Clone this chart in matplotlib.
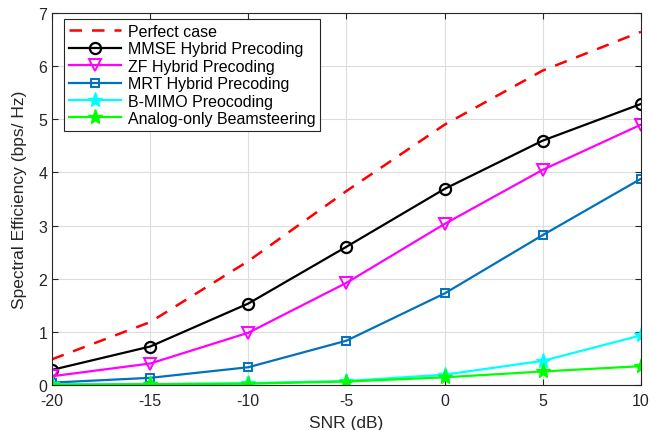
import numpy as np
import matplotlib.pyplot as plt

plt.rcParams['font.family'] = ['Liberation Sans', 'DejaVu Sans']
plt.rcParams['axes.unicode_minus'] = False

snr = [-20, -15, -10, -5, 0, 5, 10]
perfect = [0.48, 1.18, 2.33, 3.65, 4.90, 5.92, 6.65]
mmse = [0.28, 0.72, 1.53, 2.60, 3.69, 4.60, 5.29]
zf = [0.16, 0.40, 0.98, 1.92, 3.03, 4.05, 4.90]
mrt = [0.04, 0.13, 0.33, 0.83, 1.72, 2.82, 3.88]
bmimo = [0.01, 0.01, 0.03, 0.07, 0.19, 0.45, 0.93]
analog = [0.00, 0.01, 0.02, 0.06, 0.14, 0.25, 0.35]

fig = plt.figure(figsize=(6.5, 4.31), dpi=100)
ax = fig.add_axes([0.08, 0.105, 0.906, 0.862])

ax.plot(snr, perfect, '--', color='#FF0000', lw=1.8, dashes=(5, 4), label='Perfect case')
ax.plot(snr, mmse, '-o', color='black', lw=1.6, ms=8, mfc='none', mew=1.6,
        label='MMSE Hybrid Precoding')
ax.plot(snr, zf, '-v', color='#FF00FF', lw=1.6, ms=9, mfc='none', mew=1.4,
        label='ZF Hybrid Precoding')
ax.plot(snr, mrt, '-s', color='#0072BD', lw=1.6, ms=6, mfc='none', mew=1.4,
        label='MRT Hybrid Precoding')
ax.plot(snr, bmimo, '-*', color='#00FFFF', lw=1.6, ms=11,
        label='B-MIMO Preocoding')
ax.plot(snr, analog, '-*', color='#00FF00', lw=1.6, ms=11,
        label='Analog-only Beamsteering')

ax.set_xlim(-20, 10)
ax.set_ylim(0, 7)
ax.set_xticks(snr)
ax.set_yticks(range(0, 8))
ax.grid(True, color='#DDDDDD', lw=0.8)
ax.set_axisbelow(True)
ax.tick_params(direction='in', top=True, right=True, labelsize=11.5,
               colors='#262626', length=4)
ax.tick_params(axis='x', pad=6)
for s in ax.spines.values():
    s.set_color('#262626')
    s.set_linewidth(0.8)
ax.set_xlabel('SNR (dB)', fontsize=12.5, color='#262626', labelpad=5)
ax.set_ylabel('Spectral Efficiency (bps/ Hz)', fontsize=12.5, color='#262626',
              labelpad=8)

leg = ax.legend(loc='upper left', bbox_to_anchor=(0.02, 0.984), fontsize=11.5,
                fancybox=False, framealpha=1, edgecolor='#262626',
                handlelength=3.3, borderpad=0.3, labelspacing=0.15,
                handletextpad=0.4, borderaxespad=0.0)
leg.get_frame().set_linewidth(0.8)

fig.savefig('out.png', dpi=100)
